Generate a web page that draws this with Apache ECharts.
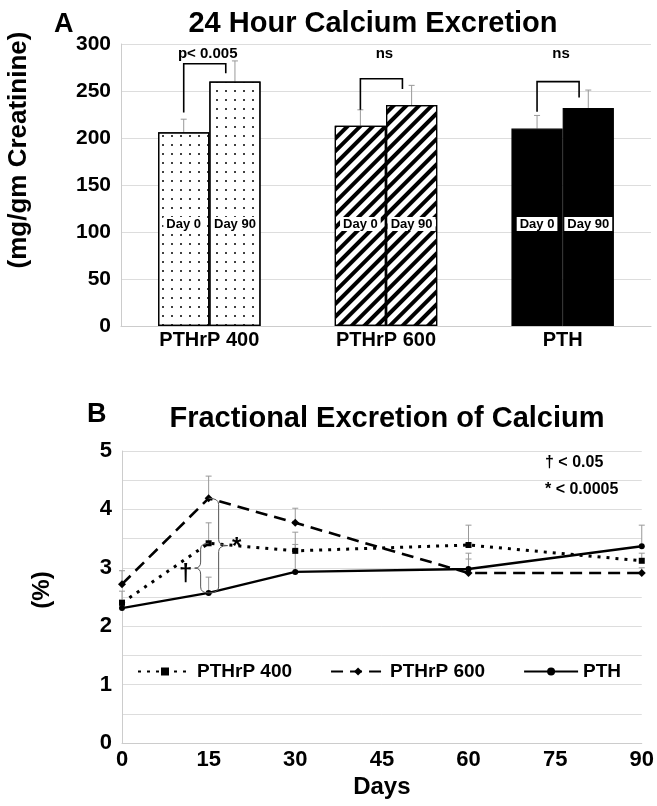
<!DOCTYPE html>
<html><head><meta charset="utf-8">
<script src="https://cdn.jsdelivr.net/npm/echarts@6/dist/echarts.min.js"></script>
<style>html,body{margin:0;padding:0;background:#fff}#c{width:657px;height:806px}</style>
</head><body><div id="c"></div>
<script>
// ---------- Panel A data ----------
const groups = ['PTHrP 400', 'PTHrP 600', 'PTH'];
const day0 = [206, 213, 210];
const day90 = [260, 235, 232];
const day0Err = [220, 230, 224];
const day90Err = [282, 256, 251];
const sigLabels = ['p< 0.005', 'ns', 'ns'];
const bracketTop = [279, 263, 260];
const bracketLeftLow = [227, 230, 228];
const bracketRightLow = [269, 252, 243];
const sigLabelValue = 290;
const yTicksA = [0, 50, 100, 150, 200, 250, 300];

// ---------- Panel B data ----------
const days = [0, 15, 30, 60, 90];
const fe400 = [2.40, 3.42, 3.29, 3.39, 3.12];
const fe600 = [2.72, 4.19, 3.77, 2.91, 2.91];
const fePTH = [2.31, 2.57, 2.93, 2.98, 3.37];
const fe400Err = [2.60, 3.77, 3.61, 3.73, 3.25];
const fe600Err = [2.95, 4.57, 4.02, 3.25, 3.00];
const fePTHErr = [2.45, 2.84, 3.40, 3.15, 3.73];
const braceDay = 15;
const braceMarks = ['*', '\u2020'];
const sigNotes = ['\u2020 < 0.05', '* < 0.0005'];

const FONT = '"Liberation Sans", Arial, sans-serif';
const chart = echarts.init(document.getElementById('c'), null, {renderer: 'canvas'});

const dotDecal = {symbol: 'circle', symbolSize: 1, color: '#000', dashArrayX: [1.6, 7], dashArrayY: [1.6, 6.2]};
const stripeDecal = {symbol: 'rect', symbolSize: 1, color: '#000', dashArrayX: [1, 0], dashArrayY: [3.2, 4.6], rotation: -Math.PI / 4};
const groupStyles = [
  {color: '#fff', borderColor: '#000', borderWidth: 1.2, decal: dotDecal},
  {color: '#fff', borderColor: '#000', borderWidth: 1.2, decal: stripeDecal},
  {color: '#000', borderColor: '#000', borderWidth: 1.2}
];

function barData(vals) {
  return vals.map((v, i) => ({value: v, itemStyle: groupStyles[i]}));
}
const dayLabel = {
  show: true, position: 'insideBottom', distance: 95,
  formatter: '{a}', color: '#000', fontFamily: FONT, fontWeight: 'bold', fontSize: 13,
  backgroundColor: '#fff', padding: [1, 3, 0, 3]
};
const BARW = 0.29;

const errA = [];
groups.forEach((g, i) => {
  errA.push([i, day0[i], day0Err[i], -1]);
  errA.push([i, day90[i], day90Err[i], 1]);
});
const brackets = groups.map((g, i) => [i, bracketTop[i], bracketLeftLow[i], bracketRightLow[i], sigLabelValue]);

const errB = [];
[[fe400, fe400Err], [fe600, fe600Err], [fePTH, fePTHErr]].forEach(([v, e]) => {
  days.forEach((d, i) => errB.push([d, v[i], e[i]]));
});
const di = days.indexOf(braceDay);
const braces = [
  [braceDay, fe600[di], fePTH[di], 1, 0],
  [braceDay, fe400[di], fePTH[di], -1, 1]
];

const axisText = {color: '#000', fontFamily: FONT, fontWeight: 'bold'};

chart.setOption({
  backgroundColor: '#fff',
  animation: false,
  grid: [
    {left: 121, top: 44, width: 530, height: 282},
    {left: 122, top: 451, width: 522, height: 292}
  ],
  xAxis: [
    {type: 'category', gridIndex: 0, data: groups,
      axisLine: {lineStyle: {color: '#ccc'}}, axisTick: {show: false},
      axisLabel: Object.assign({fontSize: 20, margin: 4}, axisText)},
    {type: 'value', gridIndex: 1, min: 0, max: 90, interval: 15,
      name: 'Days', nameLocation: 'middle', nameGap: 32,
      nameTextStyle: Object.assign({fontSize: 24}, axisText),
      axisLine: {show: true, lineStyle: {color: '#ccc'}}, axisTick: {show: false},
      splitLine: {show: false},
      axisLabel: Object.assign({fontSize: 22, margin: 6}, axisText)}
  ],
  yAxis: [
    {type: 'value', gridIndex: 0, min: 0, max: 300, interval: 50,
      axisLine: {show: true, lineStyle: {color: '#ccc'}}, axisTick: {show: false},
      splitLine: {lineStyle: {color: '#ddd'}},
      axisLabel: Object.assign({fontSize: 21, margin: 10}, axisText)},
    {type: 'value', gridIndex: 1, min: 0, max: 5, interval: 0.5,
      axisLine: {show: true, lineStyle: {color: '#ccc'}}, axisTick: {show: false},
      splitLine: {lineStyle: {color: '#ddd'}},
      axisLabel: Object.assign({fontSize: 22, margin: 10,
        formatter: v => (Math.abs(v - Math.round(v)) < 1e-9 ? String(Math.round(v)) : '')}, axisText)}
  ],
  legend: {
    data: ['PTHrP 400', 'PTHrP 600', 'PTH'],
    left: 132, top: 657, itemWidth: 54, itemHeight: 10, itemGap: 38,
    textStyle: {color: '#000', fontFamily: FONT, fontWeight: 'bold', fontSize: 19, padding: [0, 0, 0, 0]}
  },
  graphic: [
    {type: 'text', left: 54, top: 11, style: {text: 'A', font: 'bold 27px ' + FONT, fill: '#000'}},
    {type: 'text', x: 373, y: 24, style: {text: '24 Hour Calcium Excretion', font: 'bold 29px ' + FONT, fill: '#000', textAlign: 'center', textVerticalAlign: 'middle'}},
    {type: 'text', x: 19, y: 150, rotation: Math.PI / 2, style: {text: '(mg/gm Creatinine)', font: 'bold 26px ' + FONT, fill: '#000', textAlign: 'center', textVerticalAlign: 'middle'}},
    {type: 'text', left: 87, top: 401, style: {text: 'B', font: 'bold 27px ' + FONT, fill: '#000'}},
    {type: 'text', x: 387, y: 419, style: {text: 'Fractional Excretion of Calcium', font: 'bold 29px ' + FONT, fill: '#000', textAlign: 'center', textVerticalAlign: 'middle'}},
    {type: 'text', x: 42, y: 590, rotation: Math.PI / 2, style: {text: '(%)', font: 'bold 24px ' + FONT, fill: '#000', textAlign: 'center', textVerticalAlign: 'middle'}},
    {type: 'text', x: 545, y: 463, style: {text: sigNotes[0], font: 'bold 16px ' + FONT, fill: '#000', textVerticalAlign: 'middle'}},
    {type: 'text', x: 545, y: 490, style: {text: sigNotes[1], font: 'bold 16px ' + FONT, fill: '#000', textVerticalAlign: 'middle'}}
  ],
  series: [
    // error bars A (behind bars)
    {type: 'custom', xAxisIndex: 0, yAxisIndex: 0, z: 1, data: errA, silent: true,
      renderItem: (params, api) => {
        const band = api.size([1, 0])[0];
        const off = api.value(3) * band * BARW / 2;
        const p1 = api.coord([api.value(0), api.value(1)]);
        const p2 = api.coord([api.value(0), api.value(2)]);
        const x = p1[0] + off;
        return {type: 'group', children: [
          {type: 'line', shape: {x1: x, y1: p1[1], x2: x, y2: p2[1]}, style: {stroke: '#999', lineWidth: 1}},
          {type: 'line', shape: {x1: x - 3, y1: p2[1], x2: x + 3, y2: p2[1]}, style: {stroke: '#999', lineWidth: 1}}
        ]};
      }},
    {type: 'bar', name: 'Day 0', xAxisIndex: 0, yAxisIndex: 0, z: 2, barWidth: BARW * 100 + '%', barGap: '0%',
      data: barData(day0), label: dayLabel},
    {type: 'bar', name: 'Day 90', xAxisIndex: 0, yAxisIndex: 0, z: 2, barWidth: BARW * 100 + '%', barGap: '0%',
      data: barData(day90), label: dayLabel},
    // significance brackets A
    {type: 'custom', xAxisIndex: 0, yAxisIndex: 0, z: 3, silent: true, data: brackets,
      renderItem: (params, api) => {
        const band = api.size([1, 0])[0];
        const i = api.value(0);
        const xl = api.coord([i, 0])[0] - band * BARW / 2;
        const xr = api.coord([i, 0])[0] + band * 0.093;
        const yt = api.coord([i, api.value(1)])[1];
        const yl = api.coord([i, api.value(2)])[1];
        const yr = api.coord([i, api.value(3)])[1];
        const ys = api.coord([i, api.value(4)])[1];
        return {type: 'group', children: [
          {type: 'polyline', shape: {points: [[xl, yl], [xl, yt], [xr, yt], [xr, yr]]}, style: {stroke: '#000', lineWidth: 1.6, fill: null}},
          {type: 'text', x: (xl + xr) / 2 + 3, y: ys, style: {text: sigLabels[params.dataIndex], font: 'bold 15px ' + FONT, fill: '#000', textAlign: 'center', textVerticalAlign: 'middle'}}
        ]};
      }},
    // error bars B
    {type: 'custom', xAxisIndex: 1, yAxisIndex: 1, z: 1, silent: true, data: errB,
      renderItem: (params, api) => {
        const p1 = api.coord([api.value(0), api.value(1)]);
        const p2 = api.coord([api.value(0), api.value(2)]);
        return {type: 'group', children: [
          {type: 'line', shape: {x1: p1[0], y1: p1[1], x2: p2[0], y2: p2[1]}, style: {stroke: '#999', lineWidth: 1}},
          {type: 'line', shape: {x1: p2[0] - 3, y1: p2[1], x2: p2[0] + 3, y2: p2[1]}, style: {stroke: '#999', lineWidth: 1}}
        ]};
      }},
    {type: 'line', name: 'PTHrP 400', xAxisIndex: 1, yAxisIndex: 1, z: 3,
      data: days.map((d, i) => [d, fe400[i]]), symbol: 'rect', symbolSize: 6,
      lineStyle: {color: '#000', width: 3, type: [3, 6]}, itemStyle: {color: '#000'}},
    {type: 'line', name: 'PTHrP 600', xAxisIndex: 1, yAxisIndex: 1, z: 3,
      data: days.map((d, i) => [d, fe600[i]]), symbol: 'diamond', symbolSize: 8,
      lineStyle: {color: '#000', width: 2.6, type: [12, 7]}, itemStyle: {color: '#000'}},
    {type: 'line', name: 'PTH', xAxisIndex: 1, yAxisIndex: 1, z: 3,
      data: days.map((d, i) => [d, fePTH[i]]), symbol: 'circle', symbolSize: 6,
      lineStyle: {color: '#000', width: 2.4, type: 'solid'}, itemStyle: {color: '#000'}},
    // braces B
    {type: 'custom', xAxisIndex: 1, yAxisIndex: 1, z: 4, silent: true, data: braces,
      renderItem: (params, api) => {
        const x = api.coord([api.value(0), api.value(1)])[0];
        const y1 = api.coord([api.value(0), api.value(1)])[1];
        const y2 = api.coord([api.value(0), api.value(2)])[1];
        const dir = api.value(3);
        const ym = (y1 + y2) / 2;
        const d = dir > 0 ? 10 : 8, t = dir > 0 ? 19 : 14, r = 6;
        const xd = x + dir * d, xt = x + dir * t;
        const path = 'M' + x + ' ' + y1 + ' Q' + xd + ' ' + y1 + ' ' + xd + ' ' + (y1 + r) +
          ' L' + xd + ' ' + (ym - r) + ' Q' + xd + ' ' + ym + ' ' + xt + ' ' + ym +
          ' Q' + xd + ' ' + ym + ' ' + xd + ' ' + (ym + r) +
          ' L' + xd + ' ' + (y2 - r) + ' Q' + xd + ' ' + y2 + ' ' + x + ' ' + y2;
        const mark = braceMarks[api.value(4)];
        return {type: 'group', children: [
          {type: 'path', shape: {pathData: path}, style: {stroke: '#555', lineWidth: 1, fill: null}},
          {type: 'text', x: xt + dir * 9, y: ym + (dir > 0 ? 2 : 6), style: {text: mark, font: 'bold 24px ' + FONT, fill: '#000', textAlign: 'center', textVerticalAlign: 'middle'}}
        ]};
      }}
  ]
});
</script></body></html>
